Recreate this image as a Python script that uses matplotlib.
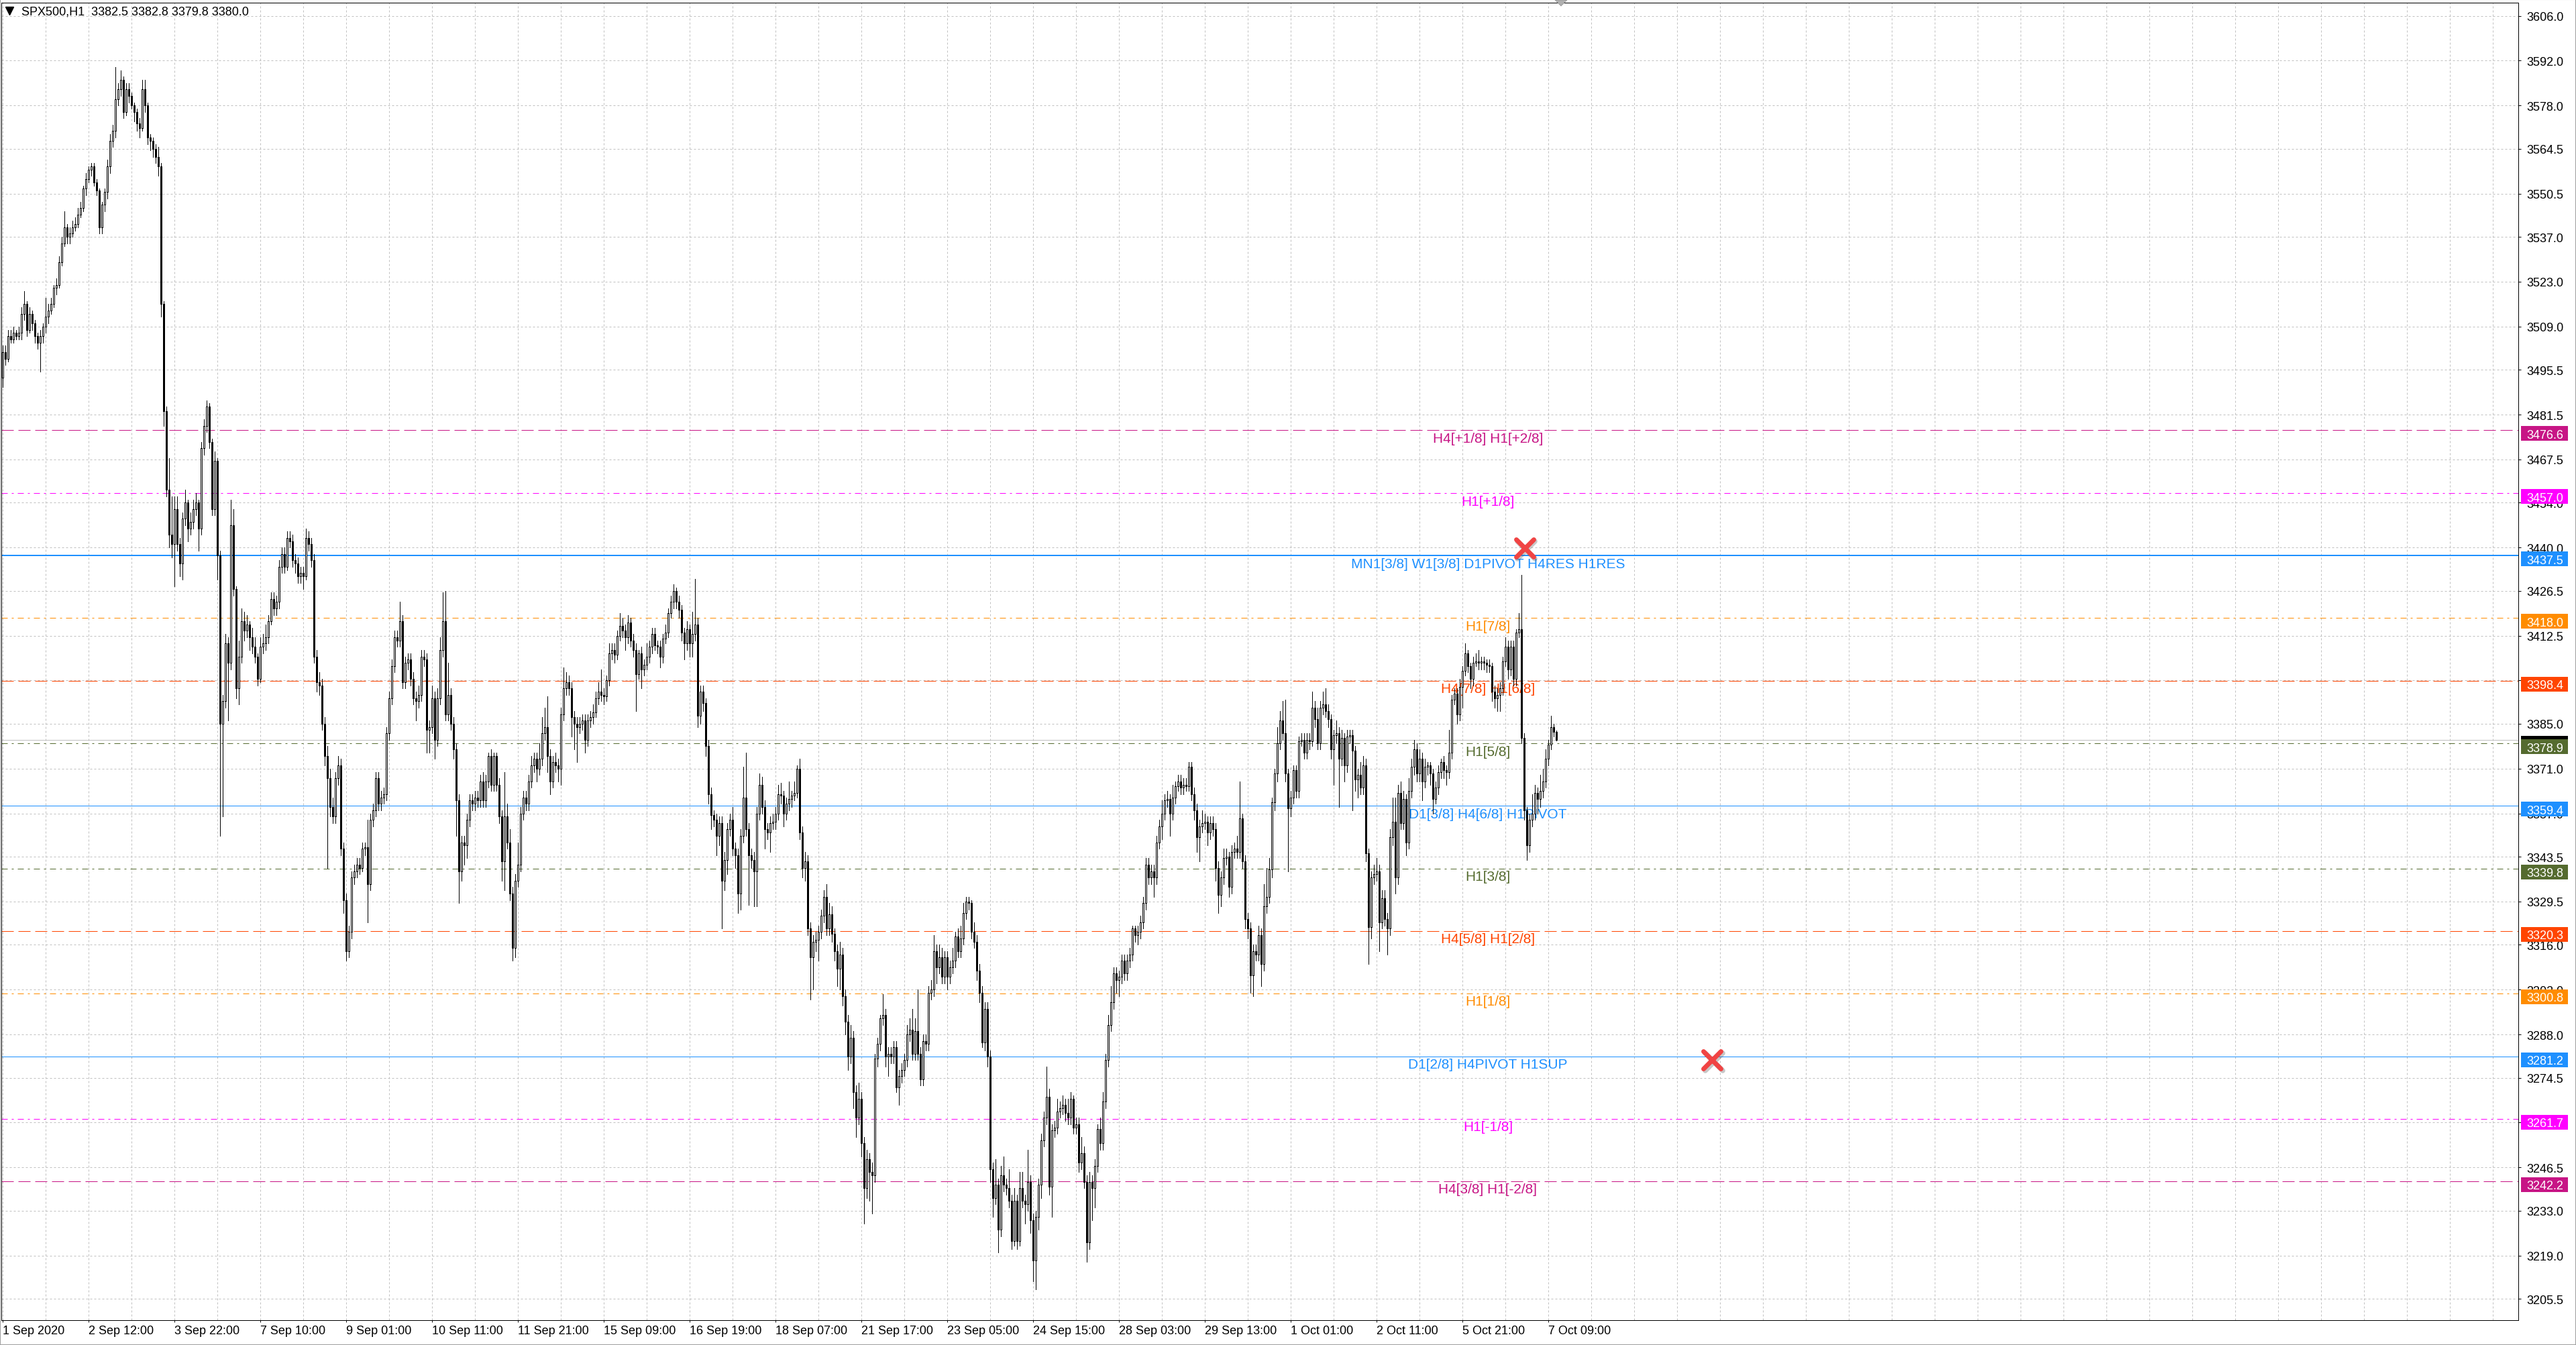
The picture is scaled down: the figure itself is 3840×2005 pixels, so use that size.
import numpy as np
import matplotlib
matplotlib.use("Agg")
import matplotlib.pyplot as plt
import matplotlib.transforms as mtransforms
from matplotlib.patches import Rectangle, Polygon
from matplotlib.lines import Line2D
from matplotlib.markers import MarkerStyle

plt.rcParams['font.family'] = ['Liberation Sans', 'DejaVu Sans']
plt.rcParams['lines.scale_dashes'] = False

W, H, DPI = 3840, 2006, 100
PX = 72.0 / DPI  # points per pixel

# ---------------- data ----------------
symbol_title = "SPX500,H1  3382.5 3382.8 3379.8 3380.0"
first_open = 3493.0

close_1 = [3501, 3499, 3506, 3505, 3507, 3506, 3507, 3513, 3516, 3508,
           3513, 3510, 3506, 3504, 3506, 3509, 3512, 3514, 3516, 3521,
           3522, 3529, 3535, 3540, 3537, 3538, 3540, 3541, 3544, 3546,
           3552, 3555, 3558, 3559, 3554, 3551.5, 3540, 3547, 3551, 3559,
           3567, 3570, 3580, 3583, 3586, 3576, 3583, 3581, 3578, 3576,
           3572.5, 3571, 3583, 3578, 3568, 3567, 3564.5, 3562, 3559, 3516,
           3482.5, 3458, 3444, 3441, 3452, 3441, 3435, 3449, 3454, 3446,
           3448, 3452, 3454, 3446, 3471, 3478, 3484, 3473, 3452, 3467,
           3437.5, 3385, 3392, 3410, 3404, 3447, 3427, 3396, 3406, 3417,
           3414, 3416, 3412, 3409, 3406, 3399, 3409, 3410, 3412, 3417]
high_1 = [3503, 3503, 3508, 3508, 3509, 3508, 3509, 3515, 3520, 3517,
          3515, 3514, 3511, 3507, 3508, 3510, 3518, 3516, 3518, 3522,
          3524, 3531, 3537, 3545, 3541, 3540, 3542, 3543, 3546, 3548,
          3553, 3557, 3559, 3560, 3560, 3555, 3552, 3548, 3552, 3561,
          3569, 3572, 3590, 3585, 3589, 3587, 3585, 3585, 3582, 3579,
          3577, 3574, 3586, 3586, 3579, 3569, 3568, 3566, 3565, 3560,
          3517, 3484, 3468, 3456, 3456, 3456, 3443, 3451, 3458, 3455,
          3451, 3455, 3457, 3455, 3473, 3480, 3486, 3485, 3474, 3470,
          3468, 3439, 3394, 3413, 3412, 3455, 3452, 3428, 3411, 3421,
          3420, 3419, 3417, 3415, 3412, 3407, 3412, 3413, 3416, 3419]
low_1 = [3490, 3497, 3498, 3504, 3504, 3505, 3505, 3505, 3511, 3506,
         3507, 3508, 3504, 3502, 3495, 3504, 3507, 3510, 3513, 3515,
         3519, 3521, 3528, 3534, 3535, 3535, 3537, 3539, 3540, 3543,
         3545, 3550, 3554, 3556, 3553, 3550, 3538, 3538, 3545, 3549,
         3557, 3565, 3568, 3578, 3581, 3574, 3575, 3579, 3577, 3573,
         3570, 3568, 3570, 3576, 3566, 3564, 3562, 3560, 3556, 3512,
         3478, 3456, 3440, 3437, 3428, 3439, 3431, 3430, 3447, 3442,
         3444, 3446, 3450, 3439, 3444, 3469, 3476, 3471, 3450, 3450,
         3430, 3350, 3356, 3390, 3386, 3402, 3425, 3393, 3391, 3404,
         3411, 3412, 3408, 3407, 3404, 3397, 3398, 3407, 3408, 3410]

close_2 = [3424, 3421, 3423, 3434, 3438, 3434, 3443, 3442, 3436, 3435,
           3431, 3432, 3431, 3443, 3441, 3436, 3406, 3398, 3397, 3385,
           3375, 3368, 3359, 3356, 3368, 3372, 3346, 3330, 3314, 3320,
           3337, 3339, 3341, 3340, 3346, 3346.5, 3335, 3355, 3358, 3368,
           3360, 3362, 3363, 3382, 3393, 3403, 3412, 3411, 3417, 3398,
           3404, 3405, 3399, 3393, 3392, 3394, 3406, 3405, 3383, 3384,
           3393, 3380, 3393, 3408, 3417, 3388, 3394, 3385, 3377, 3361,
           3339, 3348, 3347, 3355, 3361, 3360, 3362, 3361, 3367, 3361,
           3367, 3375, 3366, 3375, 3366, 3356, 3342, 3356, 3348, 3332,
           3315, 3336, 3341, 3357, 3362, 3360, 3367, 3372, 3374, 3371]
high_2 = [3426, 3426, 3425, 3436, 3440, 3440, 3445, 3445, 3444, 3438,
          3437, 3434, 3434, 3446, 3445, 3443, 3438, 3408, 3401, 3399,
          3387, 3378, 3371, 3362, 3370, 3375, 3374, 3348, 3332, 3322,
          3339, 3341, 3343, 3343, 3348, 3348, 3355, 3357, 3360, 3370,
          3370, 3364, 3365, 3384, 3395, 3405, 3414, 3414, 3423, 3419,
          3406, 3407, 3407, 3401, 3395, 3397, 3408, 3408, 3407, 3386,
          3397, 3395, 3396, 3412, 3426, 3426.5, 3404, 3396, 3387, 3379,
          3363, 3350, 3350, 3357, 3363, 3363, 3364, 3364, 3369, 3370,
          3369, 3376, 3377, 3376, 3376, 3368, 3358, 3370, 3360, 3352,
          3334, 3338, 3348, 3359, 3364, 3364, 3369, 3375, 3376, 3376]
low_2 = [3416, 3419, 3419, 3421, 3432, 3432, 3433, 3440, 3434, 3432,
         3429, 3429, 3427, 3430, 3439, 3434, 3404, 3395, 3394, 3383,
         3372, 3340, 3356, 3354, 3354, 3366, 3344, 3326, 3311, 3312,
         3318, 3335, 3337, 3338, 3339, 3344, 3323, 3333, 3353, 3356,
         3358, 3358, 3360, 3361, 3380, 3391, 3401, 3409, 3409, 3396,
         3396, 3402, 3397, 3391, 3386, 3390, 3392, 3403, 3376, 3376,
         3382, 3374, 3378, 3391, 3406, 3386, 3386, 3383, 3374, 3350,
         3329, 3336, 3341, 3343, 3353, 3358, 3358, 3359, 3359, 3359,
         3359, 3365, 3364, 3364, 3364, 3354, 3336, 3333, 3346, 3330,
         3311, 3312, 3334, 3339, 3355, 3358, 3358, 3365, 3370, 3367]

close_3 = [3374, 3382, 3384, 3375, 3367, 3373, 3372, 3371, 3388, 3396,
           3398, 3396, 3387, 3385, 3384, 3385, 3386, 3380, 3386, 3387,
           3388.5, 3393, 3395, 3394, 3393.5, 3398.5, 3407, 3408, 3406.5, 3412.5,
           3415.5, 3414, 3412, 3416.5, 3411, 3408, 3400.5, 3407, 3402, 3403.5,
           3406, 3409, 3413, 3409.5, 3409, 3406, 3411.5, 3413.5, 3419.5, 3423,
           3426.5, 3423, 3420.5, 3413.5, 3410, 3414.5, 3410, 3413, 3416, 3387.5,
           3395, 3391.5, 3378, 3363, 3356.5, 3355, 3350, 3354, 3336, 3342.5,
           3352, 3355, 3346, 3344, 3332, 3350, 3362, 3352, 3344, 3342.5,
           3339, 3357, 3366, 3359, 3352, 3351, 3354, 3354.5, 3357, 3363,
           3362.5, 3357, 3360, 3361.5, 3362.5, 3363.5, 3371, 3351, 3340, 3342]
high_3 = [3379, 3387, 3390, 3393.5, 3377, 3375, 3376, 3374, 3390, 3402.5,
          3401, 3400, 3398, 3389, 3387, 3387, 3388, 3388, 3388, 3389,
          3391, 3395, 3398, 3402, 3396, 3400, 3410, 3410, 3410, 3414,
          3419.5, 3418, 3416, 3419, 3418, 3413, 3410, 3408, 3409, 3405,
          3410, 3411, 3415, 3415, 3411, 3411, 3413, 3416, 3421, 3425,
          3428.5, 3427.5, 3425, 3422, 3415, 3417, 3416, 3420, 3430.3, 3418,
          3397, 3397, 3393, 3380, 3365, 3358, 3357, 3356, 3356, 3345,
          3354, 3357, 3359, 3348, 3346, 3352, 3371.5, 3376, 3354, 3346,
          3345, 3359, 3369.5, 3368.5, 3361, 3354, 3356, 3357, 3359, 3366,
          3366.5, 3364, 3362, 3367, 3364, 3367, 3372, 3374, 3353, 3345]
low_3 = [3369, 3372, 3380, 3370, 3363, 3365, 3370, 3367, 3366, 3386,
         3394, 3394, 3381, 3377, 3373, 3382, 3383, 3376, 3378, 3384,
         3385, 3387, 3391, 3392, 3391, 3392, 3397, 3405, 3404, 3405,
         3411, 3412, 3408, 3410, 3409, 3406, 3389, 3399, 3396, 3400,
         3402, 3404, 3407, 3408, 3407, 3402.5, 3404, 3410, 3412, 3418,
         3421, 3421, 3418, 3411, 3405, 3408, 3406, 3406, 3411, 3384,
         3385, 3389, 3375, 3360, 3352, 3353, 3344, 3347, 3321, 3333,
         3338, 3350, 3344, 3340, 3326, 3327, 3348, 3350, 3328.5, 3340,
         3328, 3328, 3355, 3357, 3346, 3349, 3345, 3352, 3352, 3355,
         3360, 3353, 3355, 3358, 3359, 3361, 3362, 3349, 3337, 3336]

close_4 = [3321, 3312, 3317, 3317.5, 3320, 3325, 3331, 3321, 3325.5, 3319.5,
           3314, 3308.5, 3313, 3300, 3292, 3281, 3287, 3270, 3262, 3268,
           3254, 3240, 3249, 3245, 3244, 3280.5, 3285, 3293, 3294, 3281,
           3282, 3281, 3284, 3271.5, 3275, 3277, 3280, 3288, 3289.5, 3282,
           3289, 3282, 3274, 3286, 3285, 3301, 3302, 3314, 3309, 3312,
           3306, 3312, 3306, 3309, 3311, 3318.5, 3314, 3318, 3326, 3329.5,
           3329, 3320, 3317, 3308, 3301, 3285.5, 3296, 3281, 3246, 3237,
           3241, 3227, 3244, 3241, 3240, 3236, 3223.5, 3236, 3223.5, 3240,
           3236, 3235, 3242, 3230, 3217.5, 3231, 3241, 3255, 3262, 3268.5,
           3240.5, 3258, 3259, 3264, 3265, 3266, 3263.5, 3262, 3268, 3259]
high_4 = [3344, 3323, 3319, 3320, 3322, 3327, 3333, 3335, 3329, 3328,
          3321, 3316, 3317, 3315, 3302, 3294, 3291, 3289, 3272, 3273,
          3270, 3256, 3252, 3251, 3248, 3282, 3287, 3294, 3300.5, 3296,
          3284, 3284, 3286, 3286, 3277, 3279, 3282, 3291, 3293, 3296,
          3293, 3302, 3284, 3288, 3288, 3303, 3305, 3319, 3316, 3316,
          3315, 3314, 3314, 3311, 3315, 3320, 3321, 3322, 3329, 3331,
          3331, 3330, 3323, 3319, 3310, 3303, 3298, 3298, 3283, 3248,
          3249, 3243, 3247, 3250, 3243, 3246, 3238, 3240, 3238, 3245,
          3245, 3238, 3252, 3244, 3232, 3233, 3243, 3257, 3264, 3278,
          3271, 3260, 3261, 3268, 3267, 3269, 3268, 3268, 3270, 3269]
low_4 = [3319, 3299, 3302, 3314, 3311, 3318, 3323, 3319, 3319, 3317,
         3311, 3303, 3302, 3297, 3288, 3277, 3279, 3265, 3256, 3260,
         3250, 3229, 3237, 3236, 3232, 3242, 3278, 3283, 3291, 3278,
         3275, 3279, 3279, 3270, 3266, 3273, 3275, 3278, 3286, 3280,
         3280, 3280, 3272, 3272, 3283, 3283, 3299, 3300, 3304, 3307,
         3304, 3304, 3302, 3304, 3307, 3309, 3312, 3312, 3316, 3324,
         3327, 3318, 3315, 3305, 3298, 3284, 3283, 3278, 3242, 3231,
         3235, 3220, 3225, 3239, 3238, 3234, 3221, 3222, 3221, 3222,
         3234, 3229, 3233, 3226, 3211, 3208.5, 3227, 3237, 3253, 3260,
         3238, 3231, 3256, 3257, 3262, 3263, 3261, 3260, 3260, 3257]

close_5 = [3260, 3248, 3251, 3242, 3223, 3242, 3240, 3247, 3258.5, 3254,
           3267, 3280, 3291, 3298, 3307, 3305, 3306, 3311, 3307, 3311,
           3313, 3321, 3319, 3320, 3323, 3329, 3341, 3337, 3339, 3337,
           3348, 3353, 3357, 3361, 3361.5, 3357, 3362, 3365.5, 3367, 3365,
           3366, 3365.5, 3371.5, 3363, 3358, 3349.5, 3353, 3354, 3354.5, 3351,
           3354, 3352, 3340, 3331.5, 3337, 3343, 3343.5, 3334, 3345, 3346,
           3345, 3355.5, 3342, 3324, 3321, 3306.5, 3314, 3313, 3319, 3310,
           3328, 3331, 3339.5, 3360.5, 3369.5, 3379, 3386, 3382, 3369.5, 3358.5,
           3362, 3370.5, 3364, 3379.5, 3380, 3376, 3380, 3379.5, 3390, 3386.5,
           3379, 3390, 3391, 3389, 3386.5, 3377, 3381.5, 3382, 3374, 3380.5]
high_5 = [3262, 3262, 3256, 3253, 3244, 3245, 3244, 3249, 3260, 3262,
          3270, 3282, 3294, 3303, 3309, 3309, 3308, 3313, 3313, 3313,
          3315, 3322, 3322, 3322, 3325, 3331, 3343, 3343, 3341, 3341,
          3350, 3355, 3361, 3363, 3364, 3363, 3366, 3367, 3369, 3369,
          3368, 3368, 3373, 3373, 3365, 3360, 3355, 3358, 3357, 3356,
          3356, 3356, 3354, 3342, 3339, 3346, 3346, 3345, 3347, 3348,
          3350, 3367, 3357, 3344, 3326, 3323, 3316, 3316, 3322, 3321,
          3335, 3340, 3343, 3362, 3371, 3384, 3389, 3392, 3392.5, 3371,
          3364, 3372, 3372, 3381, 3382, 3382, 3382, 3382, 3395, 3392,
          3390, 3392, 3395, 3396, 3391, 3388, 3383, 3386, 3384, 3383]
low_5 = [3257, 3245, 3246, 3240, 3217, 3221, 3230, 3234, 3245, 3252,
         3252, 3265, 3278, 3289, 3296, 3301, 3300, 3304, 3305, 3305,
         3309, 3311, 3317, 3316, 3318, 3321, 3327, 3335, 3335, 3331,
         3335, 3346, 3349, 3355, 3359, 3350, 3355, 3360, 3364, 3363,
         3363, 3364, 3364, 3361, 3355, 3345, 3342, 3351, 3352, 3347,
         3349, 3350, 3336, 3326, 3328, 3335, 3341, 3331, 3332, 3343,
         3343, 3343, 3340, 3321, 3318, 3301, 3300, 3311, 3311, 3303,
         3308, 3326, 3329, 3337, 3358, 3367, 3377, 3380, 3367, 3339,
         3356, 3360, 3362, 3362, 3378, 3374, 3374, 3377, 3378, 3384,
         3377, 3377, 3388, 3387, 3384, 3374, 3366, 3379, 3359, 3372]

close_6 = [3372, 3381, 3381.5, 3376.5, 3367.5, 3369, 3365, 3372, 3344.5, 3321.5,
           3337, 3338, 3339, 3323, 3330.5, 3324, 3321, 3349.5, 3354.5, 3337,
           3363.5, 3354, 3361.5, 3348, 3364, 3371.5, 3377, 3369.5, 3374, 3367,
           3371.5, 3372, 3369.5, 3361.5, 3365, 3370, 3373, 3370.5, 3370, 3376,
           3392.5, 3394.5, 3388, 3396.5, 3401.5, 3407, 3403, 3399, 3404, 3404.5,
           3404, 3404.5, 3404, 3403.5, 3403, 3395, 3393, 3394, 3396, 3404.5,
           3409, 3402, 3409, 3399, 3413.5, 3414.5, 3380.5, 3358, 3347, 3355,
           3357, 3363.5, 3361.5, 3364, 3367, 3374, 3378.5, 3384, 3382.5, 3380]
high_6 = [3382, 3383, 3383, 3383, 3378, 3371, 3373, 3375, 3374, 3346,
          3339, 3341, 3343, 3341, 3333, 3333, 3326, 3352, 3362, 3362,
          3366, 3367, 3364, 3363, 3368, 3374, 3380, 3379, 3377, 3376,
          3374, 3373, 3373, 3371, 3367, 3372, 3374, 3375, 3372, 3383,
          3394, 3396, 3396, 3399, 3403, 3410, 3408, 3404, 3406, 3407,
          3408, 3406, 3406, 3405, 3405, 3404, 3397, 3396, 3398, 3406,
          3412, 3411, 3411, 3411, 3414.5, 3419.5, 3431.5, 3382, 3359, 3357,
          3363, 3366, 3365, 3369, 3371, 3377, 3380, 3387.5, 3385, 3382.8]
low_6 = [3367, 3370, 3379, 3358, 3364, 3362, 3363, 3363, 3342, 3310,
         3318, 3335, 3336, 3314, 3321, 3322, 3313, 3319, 3347, 3332,
         3335, 3352, 3352, 3344, 3346, 3362, 3369, 3367, 3367, 3361,
         3365, 3369, 3366, 3357, 3360, 3363, 3368, 3368, 3366, 3368,
         3374, 3391, 3385, 3386, 3390, 3400, 3401, 3396, 3397, 3403,
         3402, 3402, 3402, 3401, 3401, 3392, 3390, 3389, 3389, 3394,
         3403, 3399, 3400, 3397, 3397, 3412, 3379, 3355, 3342.5, 3345,
         3353, 3355, 3357, 3359, 3362, 3365, 3372, 3377, 3381, 3379.8]

time_labels = ["1 Sep 2020", "2 Sep 12:00", "3 Sep 22:00", "7 Sep 10:00", "9 Sep 01:00",
               "10 Sep 11:00", "11 Sep 21:00", "15 Sep 09:00", "16 Sep 19:00", "18 Sep 07:00",
               "21 Sep 17:00", "23 Sep 05:00", "24 Sep 15:00", "28 Sep 03:00", "29 Sep 13:00",
               "1 Oct 01:00", "2 Oct 11:00", "5 Oct 21:00", "7 Oct 09:00"]
bars_per_label = 32

price_ticks = [3606.0, 3592.0, 3578.0, 3564.5, 3550.5, 3537.0, 3523.0, 3509.0, 3495.5,
               3481.5, 3467.5, 3454.0, 3440.0, 3426.5, 3412.5, 3398.5, 3385.0, 3371.0,
               3357.0, 3343.5, 3329.5, 3316.0, 3302.0, 3288.0, 3274.5, 3260.5, 3246.5,
               3233.0, 3219.0, 3205.5]

level_prices = [3476.6, 3457.0, 3437.5, 3418.0, 3398.4, 3378.9, 3359.4,
                3339.8, 3320.3, 3300.8, 3281.2, 3261.7, 3242.2]
level_names = ["H4[+1/8] H1[+2/8]", "H1[+1/8]", "MN1[3/8] W1[3/8] D1PIVOT H4RES H1RES",
               "H1[7/8]", "H4[7/8] H1[6/8]", "H1[5/8]", "D1[3/8] H4[6/8] H1PIVOT",
               "H1[3/8]", "H4[5/8] H1[2/8]", "H1[1/8]", "D1[2/8] H4PIVOT H1SUP",
               "H1[-1/8]", "H4[3/8] H1[-2/8]"]
level_colors = ["#C71585", "#FF00FF", "#1E90FF", "#FF8C00", "#FF4500", "#556B2F", "#1E90FF",
                "#556B2F", "#FF4500", "#FF8C00", "#1E90FF", "#FF00FF", "#C71585"]
level_styles = ["dash", "dashdot", "solid", "dashdot", "dash", "dashdot", "solid",
                "dashdot", "dash", "dashdot", "solid", "dashdot", "dash"]
level_widths_px = [1, 1, 2, 1, 1, 1, 1, 1, 1, 1, 1, 1, 1]
label_bar = 553.5

current_price = 3380.0
signal_bars = [567.15, 637.1]
signal_prices = [3439.8, 3280.0]

# ---------------- assemble ----------------
closes = np.array(close_1 + close_2 + close_3 + close_4 + close_5 + close_6, dtype=float)
highs = np.array(high_1 + high_2 + high_3 + high_4 + high_5 + high_6, dtype=float)
lows = np.array(low_1 + low_2 + low_3 + low_4 + low_5 + low_6, dtype=float)
n = min(len(closes), len(highs), len(lows))
closes, highs, lows = closes[:n], highs[:n], lows[:n]
opens = np.concatenate([[first_open], closes[:-1]])
highs = np.maximum(highs, np.maximum(opens, closes))
lows = np.minimum(lows, np.minimum(opens, closes))
x = np.arange(n)

fig = plt.figure(figsize=(W / DPI, H / DPI), dpi=DPI, facecolor='white')
ax_left, ax_right, ax_top, ax_bottom = 2, 3754, 5, 1969
ax = fig.add_axes([ax_left / W, (H - ax_bottom) / H, (ax_right - ax_left) / W, (ax_bottom - ax_top) / H])
ax.set_facecolor('white')

grid_color = '#C0C0C0'
grid_ls = (0, (3 * PX, 3 * PX))

# x ticks / grid
ax.set_xticks(np.arange(len(time_labels)) * bars_per_label)
ax.set_xticklabels(time_labels)
for lab in ax.get_xticklabels():
    lab.set_ha('left')
ax.set_xticks(np.arange(0, 938, 16), minor=True)
ax.xaxis.remove_overlapping_locs = False
ax.grid(True, which='minor', axis='x', color=grid_color, linestyle=grid_ls, linewidth=PX)
ax.tick_params(axis='x', which='minor', length=0)
ax.tick_params(axis='x', which='major', direction='out', length=3 * PX, width=PX,
               pad=4 * PX, labelsize=13)

# y ticks / grid
ax.yaxis.tick_right()
ax.set_yticks(price_ticks)
ax.set_yticklabels([f"{p:.1f}" for p in price_ticks])
ax.grid(True, which='major', axis='y', color=grid_color, linestyle=grid_ls, linewidth=PX)
ax.tick_params(axis='y', which='major', direction='out', length=4 * PX, width=PX,
               pad=8 * PX, labelsize=13)
ax.set_axisbelow(True)
for s in ax.spines.values():
    s.set_linewidth(PX)
    s.set_color('black')

# levels
style_map = {'dash': (0, (18 * PX, 7 * PX)),
             'dashdot': (0, (9 * PX, 6 * PX, 3 * PX, 6 * PX)),
             'solid': '-'}
ax.axhline(current_price, color='#C0C0C0', lw=PX, zorder=1.8)
for p, nm, c, st, lw in zip(level_prices, level_names, level_colors, level_styles, level_widths_px):
    ax.axhline(p, color=c, lw=lw * PX, linestyle=style_map[st], zorder=2)
    ax.annotate(nm, xy=(label_bar, p), xytext=(0, -12 * PX), textcoords='offset points',
                ha='center', va='center', color=c, fontsize=15, zorder=2.5)

# candles
ax.vlines(x, lows, highs, color='black', lw=PX, zorder=3, antialiased=False)
bull = closes >= opens
ax.bar(x[bull], (closes - opens)[bull], bottom=opens[bull], width=0.7,
       facecolor='white', edgecolor='black', linewidth=PX, zorder=4, antialiased=False)
ax.bar(x[~bull], (opens - closes)[~bull], bottom=closes[~bull], width=0.7,
       facecolor='black', edgecolor='black', linewidth=PX, zorder=4, antialiased=False)

# signal crosses
xm = MarkerStyle('x', capstyle='round')
ax.plot(np.array(signal_bars) + 0.6, np.array(signal_prices) - 0.5, ls='none', marker=xm,
        ms=19, mew=5.5, color='#606060', alpha=0.35, zorder=6)
ax.plot(signal_bars, signal_prices, ls='none', marker=xm, ms=19, mew=5,
        color='#F04444', zorder=7)

ax.set_xlim(-0.5, 937.5)
ax.set_ylim(3198.8, 3610.1)

# right price boxes (drawn slightly below their line, as the terminal does)
trans = mtransforms.blended_transform_factory(ax.transAxes, ax.transData)
ax_w = ax_right - ax_left
px_per_price = (ax_bottom - ax_top) / (3610.1 - 3198.8)
box_x0 = (3758 - ax_left) / ax_w
box_w = 70 / ax_w
box_h = 22 / px_per_price
box_shift = 5 / px_per_price
text_x = (3766 - ax_left) / ax_w
boxes = []
for p, c in zip(level_prices, level_colors):
    if p == 3378.9:
        boxes.append((current_price, 'black'))
    boxes.append((p, c))
for i, (p, c) in enumerate(boxes):
    yc = p - box_shift
    ax.add_patch(Rectangle((box_x0, yc - box_h / 2), box_w, box_h, transform=trans,
                           facecolor=c, edgecolor='none', clip_on=False, zorder=20 + 2 * i))
    ax.text(text_x, yc, f"{p:.1f}", transform=trans, color='white', fontsize=13,
            ha='left', va='center_baseline', clip_on=False, zorder=21 + 2 * i)

# header
fig.add_artist(Line2D([14 / W], [1 - 17 / H], marker='v', ms=8, color='black',
                      transform=fig.transFigure, ls='none'))
fig.text(32 / W, 1 - 18 / H, symbol_title, fontsize=13, ha='left', va='center')

# chart shift marker and window frame
fig.add_artist(Polygon([(2318 / W, 1 - 1 / H), (2336 / W, 1 - 1 / H), (2327 / W, 1 - 10 / H)],
                       closed=True, transform=fig.transFigure, facecolor='#B0B0B0',
                       edgecolor='#909090', lw=0.5))
fig.add_artist(Rectangle((0, 0), 1, 1, transform=fig.transFigure, fill=False,
                         edgecolor='#A0A0A0', lw=1.5))

fig.savefig('out.png', dpi=DPI, facecolor='white')
